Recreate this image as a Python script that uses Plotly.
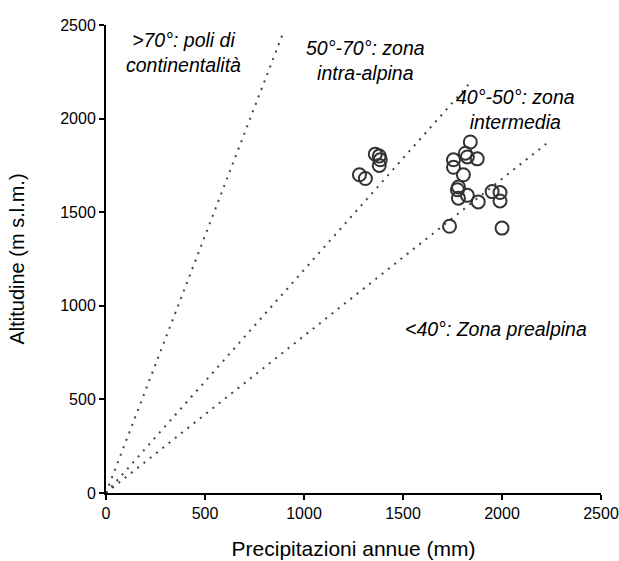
import plotly.graph_objects as go
import math

# Station data: annual precipitation (mm) and altitude (m a.s.l.)
precip = [1280, 1310, 1360, 1380, 1385, 1380, 1840, 1755, 1755, 1815, 1825, 1875,
          1805, 1780, 1775, 1780, 1825, 1880, 1950, 1990, 1990, 1735, 2000]
altitude = [1700, 1680, 1810, 1800, 1780, 1750, 1875, 1780, 1740, 1815, 1795, 1785,
            1700, 1635, 1620, 1575, 1590, 1555, 1610, 1605, 1560, 1425, 1415]

# Gams angle boundary lines (degrees) and their end x in data units
angles = [70, 50, 40]
line_end_x = [892, 1842, 2232]

zone_labels = [">70°: poli di<br>continentalità", "50°-70°: zona<br>intra-alpina",
               "40°-50°: zona<br>intermedia", "<40°: Zona prealpina"]
zone_label_x = [390, 1311, 2070, 1969]
zone_label_y = [2353, 2313, 2046, 876]

tick_vals = [0, 500, 1000, 1500, 2000, 2500]

FONT = "Liberation Sans, Arial"

fig = go.Figure()
for a, xe in zip(angles, line_end_x):
    t = math.tan(math.radians(a))
    fig.add_trace(go.Scatter(x=[0, xe], y=[0, xe * t], mode="lines",
                             line=dict(color="#444444", width=2, dash="2px,6px"),
                             showlegend=False, hoverinfo="skip"))

fig.add_trace(go.Scatter(x=precip, y=altitude, mode="markers",
                         marker=dict(symbol="circle-open", size=13, color="#333333",
                                     line=dict(width=2, color="#333333")),
                         showlegend=False))

for txt, x, y in zip(zone_labels, zone_label_x, zone_label_y):
    fig.add_annotation(x=x, y=y, text="<i>" + txt + "</i>", showarrow=False,
                       font=dict(family=FONT, size=19.5, color="black"),
                       align="center")

axis_common = dict(showline=True, linecolor="black", linewidth=2, ticks="outside",
                   ticklen=5, tickwidth=2, tickcolor="black", showgrid=False,
                   zeroline=False, tickvals=tick_vals, automargin=False,
                   ticklabeloverflow="allow",
                   tickfont=dict(family=FONT, size=16, color="black"))

fig.update_layout(
    width=619, height=561,
    margin=dict(l=106, r=18, t=25, b=68),
    plot_bgcolor="white", paper_bgcolor="white",
    xaxis=dict(range=[0, 2500], title=dict(text="Precipitazioni annue (mm)", standoff=20,
               font=dict(family=FONT, size=21, color="black")), **axis_common),
    yaxis=dict(range=[0, 2500], title=dict(text="Altitudine (m s.l.m.)", standoff=30,
               font=dict(family=FONT, size=20, color="black")), **axis_common),
)

fig.write_html("out.html", config={"displayModeBar": False},
               post_script="document.body.style.margin='0';document.body.style.overflow='hidden';")
